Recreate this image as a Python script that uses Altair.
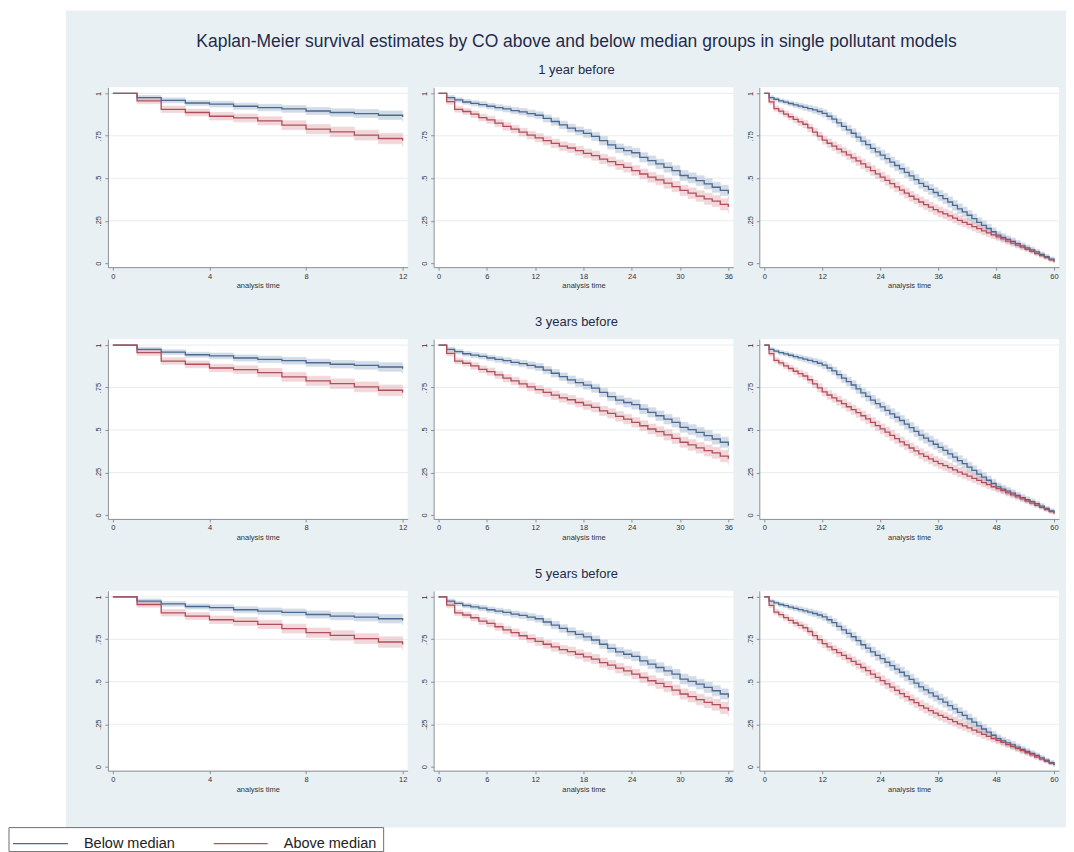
import altair as alt
import pandas as pd

TITLE = "Kaplan-Meier survival estimates by CO above and below median groups in single pollutant models"
ROW_TITLES = ["1 year before", "3 years before", "5 years before"]
GROUPS = ["Below median", "Above median"]
X_TICKS = [[0, 4, 8, 12], [0, 6, 12, 18, 24, 30, 36], [0, 12, 24, 36, 48, 60]]
Y_TICKS = [0, 0.25, 0.5, 0.75, 1]
GRID_AT = [0.25, 0.5, 0.75, 1]

# Panel 1: 12 months follow-up (t = 0..12)
p1_below = [1.0, 0.975, 0.959, 0.943, 0.936, 0.924, 0.916, 0.908, 0.896, 0.887, 0.881, 0.871, 0.861]
p1_above = [1.0, 0.955, 0.906, 0.887, 0.865, 0.855, 0.838, 0.813, 0.789, 0.773, 0.754, 0.734, 0.720]
p1_below_hw = [0, .012, .014, .015, .017, .018, .019, .020, .021, .022, .023, .025, .026]
p1_above_hw = [0, .016, .019, .020, .022, .023, .024, .026, .027, .028, .029, .031, .032]

# Panel 2: 36 months follow-up (t = 0..36)
p2_below = [1.0, 0.975, 0.961, 0.949, 0.941, 0.934, 0.924, 0.916, 0.908, 0.898, 0.891, 0.881, 0.871,
            0.852, 0.834, 0.814, 0.795, 0.779, 0.764, 0.746, 0.721, 0.697, 0.676, 0.662, 0.650,
            0.623, 0.604, 0.584, 0.564, 0.545, 0.516, 0.502, 0.486, 0.467, 0.447, 0.428, 0.408]
p2_above = [1.0, 0.951, 0.906, 0.893, 0.877, 0.857, 0.844, 0.824, 0.805, 0.789, 0.771, 0.754, 0.738,
            0.721, 0.705, 0.689, 0.678, 0.662, 0.646, 0.633, 0.613, 0.598, 0.580, 0.564, 0.545,
            0.525, 0.506, 0.490, 0.471, 0.451, 0.428, 0.412, 0.395, 0.379, 0.365, 0.346, 0.330]
p2_below_hw = [0, .012, .013, .014, .015, .016, .016, .017, .018, .018, .019, .020, .020,
               .021, .022, .022, .023, .023, .024, .024, .025, .025, .026, .026, .027,
               .027, .027, .028, .028, .028, .029, .029, .029, .030, .030, .030, .031]
p2_above_hw = [0, .015, .017, .018, .019, .020, .021, .021, .022, .022, .023, .023, .024,
               .024, .025, .025, .026, .026, .026, .027, .027, .027, .028, .028, .028,
               .029, .029, .029, .030, .030, .030, .031, .031, .032, .032, .033, .034]

# Panel 3: 60 months follow-up (t = 0..60)
p3_below = [1.0, 0.975, 0.965, 0.955, 0.948, 0.940, 0.932, 0.925, 0.917, 0.910, 0.902, 0.893, 0.882,
            0.865, 0.848, 0.826, 0.805, 0.785, 0.765, 0.742, 0.718, 0.698, 0.676, 0.655, 0.636,
            0.615, 0.595, 0.575, 0.556, 0.535, 0.514, 0.492, 0.470, 0.452, 0.434, 0.416, 0.398,
            0.380, 0.360, 0.340, 0.320, 0.302, 0.282, 0.262, 0.240, 0.222, 0.204, 0.185, 0.165,
            0.152, 0.140, 0.128, 0.115, 0.102, 0.090, 0.078, 0.066, 0.052, 0.038, 0.024, 0.010]
p3_above = [1.0, 0.950, 0.910, 0.895, 0.878, 0.862, 0.846, 0.832, 0.818, 0.796, 0.772, 0.748, 0.724,
            0.706, 0.689, 0.672, 0.655, 0.637, 0.620, 0.602, 0.584, 0.565, 0.545, 0.526, 0.507,
            0.488, 0.468, 0.449, 0.430, 0.412, 0.394, 0.377, 0.360, 0.345, 0.330, 0.315, 0.302,
            0.290, 0.278, 0.265, 0.252, 0.240, 0.228, 0.215, 0.203, 0.190, 0.178, 0.166, 0.155,
            0.143, 0.130, 0.118, 0.106, 0.094, 0.082, 0.070, 0.057, 0.045, 0.032, 0.020, 0.008]
p3_below_hw = [0, .010, .011, .012, .013, .014, .015, .016, .017, .018, .019, .020, .021,
               .022, .023, .024, .025, .026, .026, .027, .027, .028, .028, .029, .029,
               .030, .030, .030, .030, .030, .030, .030, .030, .030, .030, .030, .030,
               .030, .030, .029, .029, .028, .028, .027, .027, .026, .025, .024, .023,
               .022, .021, .020, .019, .018, .017, .016, .015, .014, .013, .012, .010]
p3_above_hw = [0, .014, .016, .017, .018, .019, .020, .021, .022, .022, .023, .024, .024,
               .025, .025, .026, .026, .027, .027, .027, .028, .028, .028, .029, .029,
               .029, .029, .029, .029, .029, .029, .029, .029, .029, .029, .029, .029,
               .028, .028, .027, .027, .026, .026, .025, .025, .024, .023, .022, .021,
               .020, .019, .018, .017, .016, .015, .014, .013, .012, .011, .010, .008]

PANELS = [
    (12, p1_below, p1_below_hw, p1_above, p1_above_hw),
    (36, p2_below, p2_below_hw, p2_above, p2_above_hw),
    (60, p3_below, p3_below_hw, p3_above, p3_above_hw),
]

BG = "#e9f0f3"
BLUE = "#4b6a8f"
RED = "#b04f5c"
BLUE_BAND = "#7f9bbb"
RED_BAND = "#d88c96"
GRID = "#e6edf0"
AX = "#8a8f94"
TXT = "#1f2b4a"
FONT = "Liberation Sans"

W, H = 300, 180


def frame(vals, hws):
    n = len(vals)
    return pd.DataFrame({
        "t": list(range(n)),
        "s": vals,
        "lo": [v - h for v, h in zip(vals, hws)],
        "hi": [v + h for v, h in zip(vals, hws)],
    })


def panel(i, deco=False):
    n_end, bv, bh, av, ah = PANELS[i]
    pad = n_end * 5 / 290
    xs = alt.Scale(domain=[-pad, n_end + pad], nice=False, zero=False)
    ys = alt.Scale(domain=[-4 / 170, 1 + 6 / 170], nice=False, zero=False)
    xax = alt.Axis(values=X_TICKS[i], title="analysis time", grid=False,
                   labelFontSize=7.5, titleFontSize=7.5, titleFontWeight="normal",
                   tickSize=3, labelPadding=2, titlePadding=2,
                   domainColor=AX, tickColor=AX, labelColor="#333333", titleColor="#333333",
                   labelFont=FONT, titleFont=FONT, zindex=1)
    yax = alt.Axis(values=Y_TICKS, title=None, grid=False,
                   labelExpr="replace(toString(datum.value), '0.', '.')",
                   labelAngle=270, labelAlign="center", labelBaseline="bottom",
                   labelFontSize=7.5, tickSize=3, labelPadding=2,
                   domainColor=AX, tickColor=AX, labelColor="#333333",
                   labelFont=FONT, zindex=1)
    X = alt.X("t:Q", scale=xs, axis=xax)
    dfb = frame(bv, bh)
    dfa = frame(av, ah)

    layers = []
    d0 = pd.DataFrame({"k": [0]})
    if deco:
        layers.append(alt.Chart(d0).mark_rect(color=BG).encode(
            x=alt.value(-42), x2=alt.value(959), y=alt.value(-77), y2=alt.value(741)))
        layers.append(alt.Chart(d0).mark_rect(color="white").encode(
            x=alt.value(0), x2=alt.value(W), y=alt.value(0), y2=alt.value(H)))

    layers.append(alt.Chart(pd.DataFrame({"s": GRID_AT})).mark_rule(color=GRID, strokeWidth=1).encode(
        y=alt.Y("s:Q", scale=ys, axis=yax), x=alt.value(0), x2=alt.value(W)))

    for df, band in ((dfb, BLUE_BAND), (dfa, RED_BAND)):
        layers.append(alt.Chart(df).mark_area(
            interpolate="step-after", color=band, opacity=0.35,
            stroke=band, strokeOpacity=0.85, strokeWidth=0.8).encode(
            x=X, y=alt.Y("lo:Q", scale=ys, axis=yax), y2=alt.Y2("hi:Q")))
    for df, col in ((dfb, BLUE), (dfa, RED)):
        layers.append(alt.Chart(df).mark_line(
            interpolate="step-after", color=col, strokeWidth=1.3).encode(
            x=X, y=alt.Y("s:Q", scale=ys, axis=yax)))

    if deco:
        layers.append(alt.Chart(d0).mark_text(
            text=TITLE, fontSize=17.5, font=FONT, color=TXT, align="center", baseline="middle").encode(
            x=alt.value(469), y=alt.value(-45)))
        for r, rt in enumerate(ROW_TITLES):
            layers.append(alt.Chart(d0).mark_text(
                text=rt, fontSize=13, font=FONT, color=TXT, align="center", baseline="middle").encode(
                x=alt.value(469), y=alt.value(-17 + 252 * r)))
        # legend
        layers.append(alt.Chart(d0).mark_rect(fill="white", stroke="#6e6e6e", strokeWidth=1).encode(
            x=alt.value(-99), x2=alt.value(276), y=alt.value(741), y2=alt.value(765)))
        for (x1, x2, tx, col, lab) in ((-95, -40, -24, BLUE, GROUPS[0]), (106, 160, 176, RED, GROUPS[1])):
            layers.append(alt.Chart(d0).mark_rule(color=col, strokeWidth=1.3).encode(
                x=alt.value(x1), x2=alt.value(x2), y=alt.value(757)))
            layers.append(alt.Chart(d0).mark_text(
                text=lab, fontSize=14.5, font=FONT, color="#222222", align="left", baseline="middle").encode(
                x=alt.value(tx), y=alt.value(757)))

    return alt.layer(*layers).properties(width=W, height=H)


panels = []
for r in range(3):
    for i in range(3):
        panels.append(panel(i, deco=(r == 0 and i == 0)))

chart = alt.concat(*panels, columns=3, spacing={"row": 72, "column": 26}, bounds="flush").properties(
    padding={"left": 0, "top": 2, "right": 0, "bottom": 0},
    background="white",
).configure_view(fill="white", strokeWidth=0)

chart.save("out.html", embed_options={"renderer": "svg", "actions": False})
